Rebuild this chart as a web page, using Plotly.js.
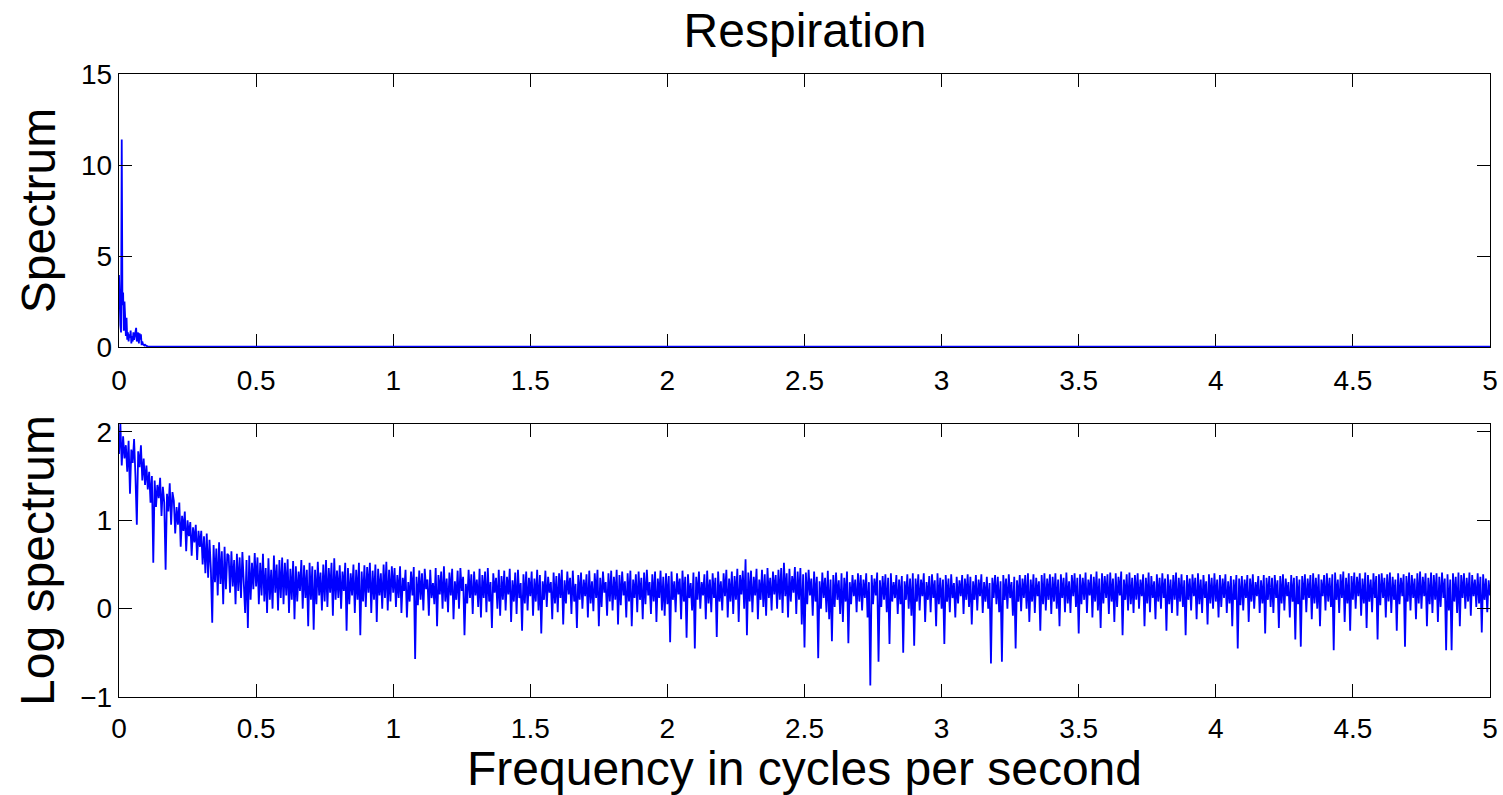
<!DOCTYPE html>
<html><head><meta charset="utf-8">
<script src="https://cdn.plot.ly/plotly-3.0.1.min.js"></script>
<style>html,body{margin:0;padding:0;background:#fff}#chart{width:1503px;height:795px}</style>
</head><body><div id="chart"></div>
<script>
// Top panel: spectrum (low-frequency detail, then flat near zero)
const specFreq = [0, 0.0025, 0.005, 0.0075, 0.01, 0.0125, 0.015, 0.0175, 0.02, 0.0225, 0.025, 0.0275, 0.03, 0.0325, 0.035, 0.0375, 0.04, 0.0425, 0.045, 0.0475, 0.05, 0.0525, 0.055, 0.0575, 0.06, 0.0625, 0.065, 0.0675, 0.07, 0.0725, 0.075, 0.0775, 0.08, 0.0825, 0.085, 0.0875, 0.09, 0.0925, 0.095, 0.0975, 0.1, 0.105, 0.11, 0.12, 0.2, 1, 2, 3, 4, 5];
const specValues = [3.96, 2.1, 1.2, 0.8, 11.4, 2.3, 3.0, 0.9, 2.5, 1.6, 0.6, 1.6, 0.4, 0.8, 0.3, 0.7, 0.5, 0.9, 0.2, 0.6, 0.3, 0.8, 0.4, 0.6, 0.9, 1.05, 0.3, 0.5, 0.8, 0.2, 0.75, 0.4, 0.7, 0.1, 0.3, 0.15, 0.1, 0.08, 0.12, 0.05, 0.06, 0.03, 0.02, 0.02, 0.02, 0.02, 0.02, 0.02, 0.02, 0.02];

// Bottom panel: log spectrum sampled every 0.005 Hz from 0 to 5 Hz
const logStartFreq = 0;
const logStepFreq = 0.005;
const logSpectrum = [
1.75,2.09,1.62,1.95,1.70,1.85,1.55,1.90,1.30,1.80,1.65,1.92,1.50,0.95,1.78,1.60,1.85,1.45,1.70,1.40,
1.62,1.35,1.55,1.20,1.50,0.52,1.45,1.15,1.40,1.25,1.48,1.05,1.38,1.20,0.44,1.30,1.10,1.42,0.95,1.32,
1.22,0.85,1.15,0.95,1.20,0.70,1.05,0.88,1.10,0.65,1.00,0.82,0.98,0.60,0.92,0.75,0.95,0.55,0.88,0.70,
0.88,0.50,0.82,0.40,0.85,0.35,0.78,0.45,-0.16,0.72,0.30,0.68,0.15,0.75,0.28,0.65,0.05,0.70,0.22,0.62,
0.60,0.18,0.65,0.25,0.55,0.05,0.62,0.20,0.58,0.12,0.64,0.30,-0.05,0.55,-0.22,0.60,0.10,0.52,0.22,0.63,
0.25,0.58,0.05,0.52,0.15,0.62,0.08,0.46,-0.05,0.57,0.10,0.44,0.00,0.60,0.18,0.50,-0.02,0.55,0.12,0.58,
0.05,0.52,0.15,0.56,-0.05,0.45,0.10,0.54,-0.12,0.48,0.08,0.42,0.20,0.55,0.00,0.49,0.12,0.44,-0.20,0.52,
0.10,0.48,-0.24,0.44,0.05,0.53,0.15,0.41,-0.02,0.50,0.08,0.55,0.02,0.46,0.18,0.52,-0.08,0.57,0.10,0.43,
0.12,0.49,0.00,0.42,0.20,0.52,-0.25,0.46,0.05,0.40,0.15,0.50,-0.05,0.44,0.10,0.52,-0.30,0.42,0.08,0.49,
0.02,0.47,0.18,0.52,-0.05,0.43,0.10,0.50,-0.15,0.45,0.15,0.40,0.00,0.50,0.12,0.53,-0.02,0.44,0.08,0.48,
0.18,0.46,0.02,0.38,0.12,0.48,-0.05,0.35,0.20,0.44,-0.10,0.30,0.08,0.42,0.15,0.47,-0.57,0.36,0.04,0.43,
0.10,0.40,-0.02,0.45,0.22,0.33,-0.08,0.44,0.12,0.29,0.05,0.46,-0.20,0.38,0.16,0.42,0.00,0.48,0.08,0.34,
-0.04,0.41,0.15,0.45,-0.12,0.31,0.10,0.43,0.00,0.46,0.20,0.36,-0.30,0.28,0.06,0.44,0.12,0.39,-0.06,0.42,
0.15,0.33,0.02,0.45,-0.10,0.38,0.12,0.42,-0.04,0.46,0.08,0.30,-0.22,0.40,0.18,0.35,0.00,0.44,-0.08,0.37,
0.10,0.43,-0.02,0.36,0.16,0.45,-0.15,0.32,0.08,0.41,-0.06,0.44,0.12,0.29,-0.25,0.39,0.06,0.42,-0.02,0.35,
0.14,0.42,-0.08,0.34,0.08,0.44,-0.02,0.38,-0.28,0.31,0.10,0.43,0.02,0.36,0.18,0.30,-0.12,0.41,0.06,0.37,
-0.04,0.40,0.12,0.44,-0.18,0.32,0.06,0.42,0.16,0.35,-0.06,0.43,0.08,0.28,-0.22,0.38,0.10,0.41,0.00,0.33,
0.14,0.39,-0.10,0.43,0.06,0.31,-0.03,0.40,0.12,0.44,-0.20,0.35,0.02,0.42,0.18,0.30,-0.08,0.40,0.08,0.43,
-0.02,0.36,0.10,0.44,-0.18,0.38,0.04,0.42,0.15,0.31,-0.10,0.40,0.08,0.43,-0.20,0.33,0.12,0.39,-0.04,0.42,
0.10,0.35,-0.12,0.41,0.05,0.44,0.15,0.30,-0.06,0.39,0.08,0.42,-0.15,0.34,0.12,0.43,-0.02,0.36,-0.08,0.40,
0.05,0.37,-0.38,0.42,0.10,0.31,-0.04,0.40,0.16,0.34,-0.12,0.43,0.08,0.36,-0.33,0.39,0.12,0.29,-0.02,0.41,
-0.45,0.36,0.10,0.42,0.00,0.30,0.15,0.39,-0.12,0.43,0.06,0.33,-0.04,0.40,0.12,0.35,-0.32,0.42,0.08,0.31,
-0.02,0.40,0.14,0.44,-0.10,0.34,0.08,0.42,-0.06,0.37,0.10,0.45,-0.15,0.38,0.16,0.43,0.00,0.56,-0.30,0.41,
0.08,0.43,-0.04,0.36,0.15,0.45,-0.12,0.33,0.10,0.44,0.02,0.39,-0.08,0.46,0.12,0.35,-0.02,0.42,0.16,0.38,
0.00,0.44,0.10,0.46,-0.05,0.52,0.14,0.40,-0.10,0.45,0.08,0.37,0.18,0.47,-0.06,0.42,0.10,0.46,-0.18,0.39,
-0.44,0.41,0.05,0.44,0.15,0.34,-0.08,0.42,0.08,0.36,-0.56,0.31,0.00,0.41,0.12,0.35,-0.04,0.43,-0.12,0.33,
-0.37,0.38,0.02,0.41,0.10,0.32,-0.06,0.40,-0.15,0.35,0.08,0.42,-0.39,0.30,0.05,0.38,0.14,0.33,-0.04,0.40,
0.08,0.38,-0.02,0.33,0.12,0.40,-0.10,0.30,-0.87,0.38,0.05,0.34,0.15,0.41,-0.60,0.32,0.02,0.37,0.10,0.39,
-0.04,0.35,-0.40,0.40,0.08,0.30,0.12,0.38,-0.06,0.33,0.05,0.37,-0.50,0.31,0.10,0.39,0.00,0.34,-0.08,0.40,
-0.42,0.34,0.08,0.39,-0.02,0.33,0.14,0.40,-0.15,0.30,0.10,0.37,-0.04,0.39,0.12,0.32,-0.20,0.40,0.05,0.35,
0.00,0.33,-0.40,0.38,0.08,0.34,-0.04,0.39,0.12,0.29,-0.10,0.36,0.06,0.32,0.14,0.38,-0.06,0.34,0.10,0.39,
0.02,0.36,-0.18,0.31,0.10,0.38,-0.02,0.33,0.14,0.39,-0.05,0.30,0.08,0.36,0.00,0.29,-0.62,0.35,0.12,0.38,
0.05,0.36,-0.04,0.31,-0.60,0.38,0.10,0.34,0.00,0.39,0.12,0.30,-0.08,0.36,-0.45,0.32,0.08,0.38,-0.03,0.34,
0.12,0.38,0.00,0.40,-0.15,0.33,0.08,0.39,-0.05,0.35,0.14,0.31,-0.25,0.38,0.05,0.40,-0.02,0.34,0.10,0.39,
-0.06,0.36,0.08,0.40,0.00,0.33,-0.20,0.39,0.12,0.35,-0.04,0.41,0.06,0.31,-0.05,0.38,0.14,0.40,0.02,0.35,
-0.28,0.39,0.05,0.35,0.10,0.41,-0.05,0.33,0.15,0.39,-0.10,0.36,0.08,0.42,-0.02,0.34,-0.22,0.40,0.06,0.37,
0.12,0.39,-0.06,0.41,0.08,0.34,-0.15,0.40,0.02,0.36,0.15,0.42,-0.30,0.33,0.10,0.39,-0.02,0.41,0.05,0.35,
-0.05,0.38,0.10,0.40,0.00,0.33,0.14,0.39,-0.20,0.35,0.06,0.41,-0.04,0.37,0.12,0.31,-0.12,0.39,0.08,0.35,
0.00,0.40,0.12,0.34,-0.25,0.39,0.05,0.33,-0.05,0.38,0.10,0.41,-0.08,0.35,0.08,0.39,0.02,0.32,-0.30,0.38,
0.10,0.34,-0.02,0.39,0.14,0.35,-0.12,0.40,0.05,0.33,-0.05,0.38,0.12,0.31,-0.18,0.39,0.06,0.35,0.00,0.40,
0.08,0.33,-0.10,0.38,0.02,0.34,0.12,0.39,-0.05,0.31,0.06,0.37,-0.20,0.33,0.10,0.38,-0.45,0.34,0.04,0.37,
-0.02,0.33,0.12,0.38,-0.15,0.34,0.08,0.39,0.00,0.30,0.14,0.37,-0.05,0.32,0.06,0.38,-0.28,0.35,0.10,0.37,
0.02,0.35,-0.05,0.38,0.12,0.32,-0.22,0.37,0.06,0.39,-0.02,0.34,0.14,0.30,-0.10,0.38,0.08,0.35,-0.35,0.37,
0.05,0.33,-0.43,0.37,0.10,0.39,-0.04,0.34,0.12,0.38,-0.12,0.40,0.06,0.35,0.00,0.39,-0.20,0.33,0.14,0.38,
-0.02,0.40,0.08,0.35,0.02,0.39,-0.47,0.41,0.10,0.33,-0.05,0.39,0.12,0.42,-0.15,0.35,0.06,0.40,-0.25,0.37,
0.10,0.41,0.00,0.36,0.14,0.40,-0.08,0.34,0.06,0.41,-0.22,0.38,0.08,0.33,-0.04,0.40,0.12,0.37,-0.35,0.39,
0.04,0.40,0.12,0.35,-0.10,0.39,0.08,0.41,-0.05,0.36,0.10,0.33,-0.25,0.40,0.05,0.35,0.14,0.39,-0.43,0.37,
0.08,0.41,-0.02,0.38,0.12,0.34,-0.12,0.40,0.06,0.42,0.00,0.36,0.14,0.40,-0.20,0.35,0.05,0.41,-0.05,0.38,
0.10,0.40,-0.15,0.36,0.02,0.41,0.12,0.34,-0.47,0.39,-0.02,0.33,-0.47,0.40,0.08,0.36,-0.05,0.41,-0.20,0.38,
0.12,0.40,0.00,0.35,0.08,0.41,-0.08,0.38,0.14,0.33,0.02,0.40,0.06,0.36,-0.27,0.39,0.10,0.34,-0.04,0.32,
0.15
];

const xTicks = [0, 0.5, 1, 1.5, 2, 2.5, 3, 3.5, 4, 4.5, 5];
const xTickText = ['0', '0.5', '1', '1.5', '2', '2.5', '3', '3.5', '4', '4.5', '5'];
const specTicks = [0, 5, 10, 15];
const logTicks = [-1, 0, 1, 2];

const FONT = 'Liberation Sans, Arial, Helvetica, sans-serif';
const common = {
  showline: true, linecolor: '#000', linewidth: 1.3, mirror: 'ticks',
  ticks: 'inside', ticklen: 13, tickwidth: 1, tickcolor: '#000',
  showgrid: false, zeroline: false,
  tickfont: {family: FONT, size: 28, color: '#000'}
};
const xDom = [119/1503, 1490/1503];

const traces = [
  {type: 'scatter', mode: 'lines', x: specFreq, y: specValues, xaxis: 'x', yaxis: 'y',
   line: {color: '#0000ff', width: 1.8}, hoverinfo: 'skip'},
  {type: 'scatter', mode: 'lines', x0: logStartFreq, dx: logStepFreq, y: logSpectrum, xaxis: 'x2', yaxis: 'y2',
   line: {color: '#0000ff', width: 1.8}, hoverinfo: 'skip'}
];

const layout = {
  width: 1503, height: 795,
  margin: {l: 0, r: 0, t: 0, b: 0},
  paper_bgcolor: '#fff', plot_bgcolor: '#fff',
  showlegend: false,
  font: {family: FONT, color: '#000'},
  title: {text: 'Respiration', font: {family: FONT, size: 48, color: '#000'},
          x: 805/1503, xanchor: 'center', xref: 'paper', y: 1 - 30/795, yanchor: 'middle', yref: 'container'},
  xaxis: Object.assign({}, common, {domain: xDom, anchor: 'y', range: [0, 5], tickvals: xTicks, ticktext: xTickText,
          layer: 'below traces', ticklabelstandoff: 8}),
  yaxis: Object.assign({}, common, {domain: [(795-347)/795, (795-74)/795], anchor: 'x', range: [0, 15], tickvals: specTicks,
          title: {text: 'Spectrum', font: {family: FONT, size: 48, color: '#000'}, standoff: 10}}),
  xaxis2: Object.assign({}, common, {domain: xDom, anchor: 'y2', range: [0, 5], tickvals: xTicks, ticktext: xTickText,
          ticklabelstandoff: 6,
          title: {text: 'Frequency in cycles per second', font: {family: FONT, size: 48, color: '#000'}, standoff: 8}}),
  yaxis2: Object.assign({}, common, {domain: [(795-697)/795, (795-424)/795], anchor: 'x2', range: [-1, 2.09], tickvals: logTicks,
          title: {text: 'Log spectrum', font: {family: FONT, size: 48, color: '#000'}, standoff: 10}})
};

Plotly.newPlot('chart', traces, layout, {displayModeBar: false, staticPlot: true});
</script>
</body></html>
